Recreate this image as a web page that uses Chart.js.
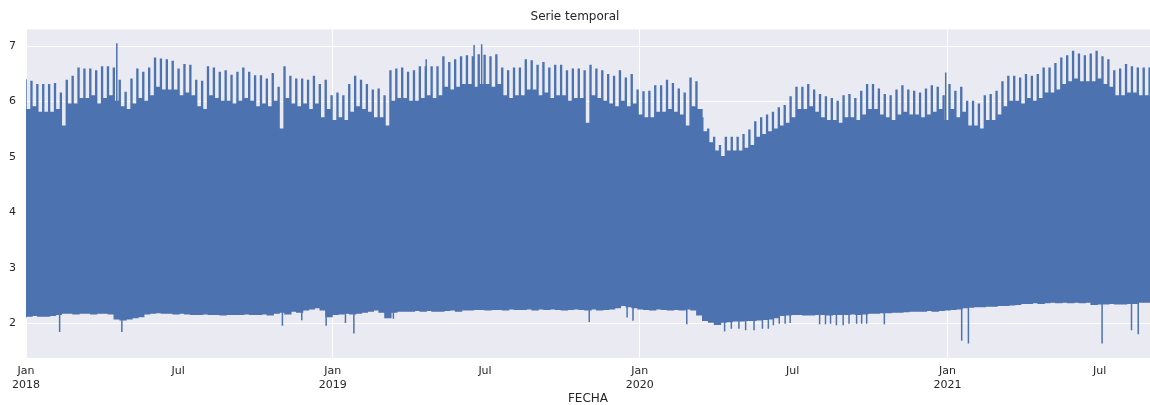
<!DOCTYPE html>
<html>
<head>
<meta charset="utf-8">
<script src="https://cdn.jsdelivr.net/npm/chart.js"></script>
<style>
  html, body { margin: 0; padding: 0; background: #fff; }
  #wrap { width: 1150px; height: 405px; }
</style>
</head>
<body>
<div id="wrap"><canvas id="grafico" width="1150" height="405"></canvas></div>
<script>
// días desde 2018-01-01 (lunes); una muestra por semana
const semanaDias = 7;
const finSemanaDia = 6; // domingo
const ultimoDia = 1337;

// máximo de lunes a sábado (borde superior de la banda)
const maxSemanal = [
  6.40, 6.36, 6.30, 6.30, 6.30, 6.32, 6.15, 6.38, 6.45, 6.60,
  6.58, 6.58, 6.55, 6.62, 6.62, 6.60, 6.38, 6.16, 6.40, 6.58,
  6.52, 6.60, 6.78, 6.76, 6.75, 6.72, 6.58, 6.66, 6.65, 6.38,
  6.36, 6.62, 6.60, 6.52, 6.55, 6.47, 6.52, 6.60, 6.52, 6.46,
  6.46, 6.40, 6.50, 6.25, 6.62, 6.45, 6.40, 6.40, 6.38, 6.45,
  6.30, 6.38, 6.10, 6.15, 6.10, 6.30, 6.45, 6.38, 6.30, 6.20,
  6.22, 6.10, 6.55, 6.58, 6.60, 6.52, 6.55, 6.62, 6.62, 6.62,
  6.62, 6.80, 6.70, 6.75, 6.80, 6.82, 6.80, 6.84, 6.83, 6.80,
  6.84, 6.60, 6.55, 6.60, 6.60, 6.75, 6.73, 6.65, 6.70, 6.60,
  6.65, 6.65, 6.55, 6.58, 6.58, 6.55, 6.65, 6.58, 6.55, 6.48,
  6.45, 6.55, 6.42, 6.48, 6.20, 6.17, 6.18, 6.28, 6.28, 6.38,
  6.32, 6.22, 6.15, 6.42, 6.35, 5.70, 5.50, 5.35, 5.20, 5.35,
  5.35, 5.35, 5.40, 5.48, 5.63, 5.70, 5.75, 5.80, 5.88, 5.92,
  6.08, 6.25, 6.25, 6.30, 6.20, 6.12, 6.08, 6.05, 6.00, 6.10,
  6.12, 6.05, 6.18, 6.30, 6.30, 6.22, 6.12, 6.10, 6.20, 6.28,
  6.20, 6.18, 6.15, 6.22, 6.28, 6.25, 6.10, 6.30, 6.18, 6.25,
  6.00, 6.00, 5.95, 6.10, 6.12, 6.18, 6.35, 6.45, 6.45, 6.42,
  6.48, 6.45, 6.48, 6.60, 6.60, 6.68, 6.78, 6.82, 6.90, 6.85,
  6.82, 6.85, 6.90, 6.80, 6.75, 6.55, 6.58, 6.66, 6.62, 6.60, 6.60
];

// máximo del domingo (caídas claras del borde superior)
const maxDomingo = [
  5.85, 5.90, 5.80, 5.80, 5.80, 5.85, 5.55, 5.95, 5.95, 6.05,
  6.05, 6.10, 5.95, 6.05, 6.10, 6.00, 5.90, 5.85, 5.95, 6.05,
  6.00, 6.10, 6.25, 6.20, 6.20, 6.20, 6.10, 6.15, 6.10, 5.90,
  5.85, 6.10, 6.05, 6.00, 6.00, 5.95, 6.00, 6.05, 6.00, 5.90,
  5.95, 5.90, 6.00, 5.50, 6.05, 5.95, 5.90, 5.95, 5.85, 5.95,
  5.70, 5.85, 5.65, 5.70, 5.65, 5.80, 5.90, 5.85, 5.80, 5.70,
  5.70, 5.55, 6.00, 6.05, 6.05, 6.00, 6.00, 6.05, 6.10, 6.05,
  6.10, 6.25, 6.20, 6.25, 6.30, 6.30, 6.25, 6.30, 6.30, 6.25,
  6.30, 6.10, 6.05, 6.10, 6.10, 6.20, 6.20, 6.10, 6.15, 6.05,
  6.10, 6.10, 6.00, 6.05, 6.05, 5.60, 6.10, 6.05, 6.00, 5.95,
  5.90, 6.00, 5.90, 5.95, 5.75, 5.70, 5.70, 5.80, 5.80, 5.85,
  5.80, 5.75, 5.55, 5.90, 5.85, 5.45, 5.25, 5.10, 5.00, 5.10,
  5.10, 5.10, 5.15, 5.20, 5.35, 5.40, 5.45, 5.50, 5.55, 5.60,
  5.70, 5.85, 5.85, 5.90, 5.80, 5.70, 5.65, 5.65, 5.60, 5.70,
  5.70, 5.65, 5.75, 5.85, 5.85, 5.75, 5.70, 5.65, 5.75, 5.80,
  5.75, 5.75, 5.70, 5.75, 5.80, 5.85, 5.65, 5.85, 5.70, 5.80,
  5.55, 5.55, 5.50, 5.65, 5.65, 5.75, 5.90, 6.00, 6.00, 5.95,
  6.05, 6.00, 6.05, 6.15, 6.15, 6.20, 6.30, 6.35, 6.40, 6.35,
  6.35, 6.35, 6.40, 6.30, 6.25, 6.10, 6.10, 6.15, 6.15, 6.10, 6.10
];

// mínimo semanal (borde inferior de la banda)
const minSemanal = [
  2.10, 2.13, 2.14, 2.13, 2.13, 2.14, 2.16, 2.18, 2.18, 2.17,
  2.18, 2.18, 2.17, 2.18, 2.18, 2.17, 2.08, 2.06, 2.08, 2.10,
  2.12, 2.17, 2.18, 2.19, 2.18, 2.18, 2.17, 2.18, 2.17, 2.16,
  2.16, 2.17, 2.16, 2.16, 2.15, 2.16, 2.16, 2.16, 2.17, 2.16,
  2.16, 2.17, 2.15, 2.18, 2.20, 2.17, 2.22, 2.20, 2.24, 2.26,
  2.28, 2.24, 2.12, 2.16, 2.17, 2.18, 2.17, 2.18, 2.20, 2.22,
  2.24, 2.20, 2.10, 2.20, 2.22, 2.22, 2.22, 2.23, 2.22, 2.23,
  2.22, 2.22, 2.23, 2.24, 2.22, 2.24, 2.24, 2.25, 2.25, 2.24,
  2.25, 2.25, 2.24, 2.26, 2.25, 2.25, 2.26, 2.24, 2.26, 2.25,
  2.26, 2.25, 2.24, 2.25, 2.26, 2.25, 2.24, 2.26, 2.24, 2.25,
  2.26, 2.28, 2.32, 2.30, 2.28, 2.26, 2.25, 2.24, 2.26, 2.25,
  2.24, 2.25, 2.24, 2.26, 2.24, 2.15, 2.05, 2.02, 1.98, 2.02,
  2.03, 2.04, 2.04, 2.05, 2.05, 2.06, 2.07, 2.08, 2.10, 2.14,
  2.15, 2.16, 2.16, 2.15, 2.15, 2.16, 2.16, 2.15, 2.16, 2.16,
  2.16, 2.17, 2.16, 2.17, 2.18, 2.18, 2.19, 2.19, 2.20, 2.20,
  2.21, 2.22, 2.22, 2.22, 2.23, 2.22, 2.23, 2.24, 2.25, 2.26,
  2.28, 2.29, 2.30, 2.30, 2.31, 2.31, 2.32, 2.32, 2.33, 2.34,
  2.36, 2.36, 2.37, 2.36, 2.37, 2.38, 2.37, 2.38, 2.37, 2.38,
  2.37, 2.38, 2.34, 2.35, 2.35, 2.36, 2.35, 2.35, 2.36, 2.36, 2.38
];

// picos aislados (día, valor)
const picosAltosDia = [108, 476, 533, 542, 1094];
const picosAltosValor = [7.05, 6.76, 7.02, 7.03, 6.52];
const picosBajosDia = [40, 114, 305, 328, 357, 380, 390, 437, 670, 715, 722, 786, 831, 839, 848, 856, 866, 876, 883, 889, 896, 903, 909, 944, 951, 957, 964, 972, 979, 988, 994, 1000, 1021, 1113, 1121, 1280, 1315, 1323];
const picosBajosValor = [1.84, 1.84, 1.95, 2.05, 1.95, 2.00, 1.81, 2.08, 2.02, 2.10, 2.04, 1.98, 1.85, 1.90, 1.90, 1.87, 1.87, 1.90, 1.90, 1.96, 1.99, 1.99, 2.00, 1.98, 1.98, 1.99, 1.96, 1.96, 1.99, 1.99, 1.99, 1.99, 1.98, 1.68, 1.63, 1.63, 1.87, 1.80];

// ejes
const xTicksDia = [0, 181, 365, 546, 730, 912, 1096, 1277];
const xTicksTexto = [['Jan', '2018'], 'Jul', ['Jan', '2019'], 'Jul', ['Jan', '2020'], 'Jul', ['Jan', '2021'], 'Jul'];
const yTicks = [2, 3, 4, 5, 6, 7];

const azul = '#4C72B0';
const textoColor = '#262626';
const fuente = 'DejaVu Sans';

function serieSemanal(valores) {
  const pts = valores.map((v, i) => ({ x: i * semanaDias, y: v }));
  pts.push({ x: ultimoDia, y: valores[valores.length - 1] });
  return pts;
}

function serieSuperior(semana, domingo) {
  const pts = [];
  semana.forEach((v, i) => {
    pts.push({ x: i * semanaDias, y: v });
    if (i * semanaDias + finSemanaDia < ultimoDia) {
      pts.push({ x: i * semanaDias + finSemanaDia, y: domingo[i] });
    }
  });
  pts.push({ x: ultimoDia, y: semana[semana.length - 1] });
  return pts;
}

function seriePicos(dias, valores) {
  const pts = [];
  dias.forEach((d, i) => {
    pts.push({ x: d, y: 4 });
    pts.push({ x: d, y: valores[i] });
    pts.push({ x: d, y: null });
  });
  return pts;
}

const fondoPlot = {
  id: 'fondoPlot',
  beforeDraw(chart) {
    const { ctx, chartArea } = chart;
    ctx.save();
    ctx.fillStyle = '#EAEAF2';
    ctx.fillRect(chartArea.left, chartArea.top, chartArea.right - chartArea.left, chartArea.bottom - chartArea.top);
    ctx.restore();
  }
};

const ctx = document.getElementById('grafico').getContext('2d');
new Chart(ctx, {
  type: 'line',
  data: {
    datasets: [
      {
        data: serieSemanal(minSemanal),
        borderColor: azul, borderWidth: 1.5, pointRadius: 0,
        stepped: 'after', fill: false
      },
      {
        data: serieSuperior(maxSemanal, maxDomingo),
        borderColor: azul, backgroundColor: azul, borderWidth: 1.5, pointRadius: 0,
        stepped: 'after', fill: '-1'
      },
      {
        data: seriePicos(picosAltosDia, picosAltosValor),
        borderColor: azul, borderWidth: 1.5, pointRadius: 0, spanGaps: false, fill: false
      },
      {
        data: seriePicos(picosBajosDia, picosBajosValor),
        borderColor: azul, borderWidth: 1.5, pointRadius: 0, spanGaps: false, fill: false
      }
    ]
  },
  options: {
    responsive: false,
    animation: false,
    layout: { padding: 0 },
    plugins: {
      legend: { display: false },
      tooltip: { enabled: false },
      title: {
        display: true,
        text: 'Serie temporal',
        color: textoColor,
        font: { family: fuente, size: 12, weight: 'normal', lineHeight: 1.2 },
        padding: { top: 10, bottom: 5 }
      }
    },
    scales: {
      x: {
        type: 'linear',
        min: 0,
        max: ultimoDia,
        afterFit(scale) { scale.height = 47; },
        afterBuildTicks(scale) { scale.ticks = xTicksDia.map(v => ({ value: v })); },
        ticks: {
          autoSkip: false,
          maxRotation: 0,
          padding: 7,
          color: textoColor,
          font: { family: fuente, size: 11, lineHeight: 1.2 },
          callback: (v) => xTicksTexto[xTicksDia.indexOf(v)]
        },
        grid: {
          drawTicks: false,
          lineWidth: 1,
          color: (c) => (c.tick && xTicksTexto[xTicksDia.indexOf(c.tick.value)] !== 'Jul') ? '#ffffff' : 'rgba(0,0,0,0)'
        },
        border: { display: false },
        title: {
          display: true,
          text: 'FECHA',
          color: textoColor,
          font: { family: fuente, size: 12, lineHeight: 1.1 },
          padding: 0
        }
      },
      y: {
        min: 1.37,
        max: 7.30,
        afterFit(scale) { scale.width = 26; },
        afterBuildTicks(scale) { scale.ticks = yTicks.map(v => ({ value: v })); },
        ticks: {
          padding: 10,
          color: textoColor,
          font: { family: fuente, size: 11 }
        },
        grid: { drawTicks: false, color: '#ffffff', lineWidth: 1 },
        border: { display: false }
      }
    }
  },
  plugins: [fondoPlot]
});
</script>
</body>
</html>
